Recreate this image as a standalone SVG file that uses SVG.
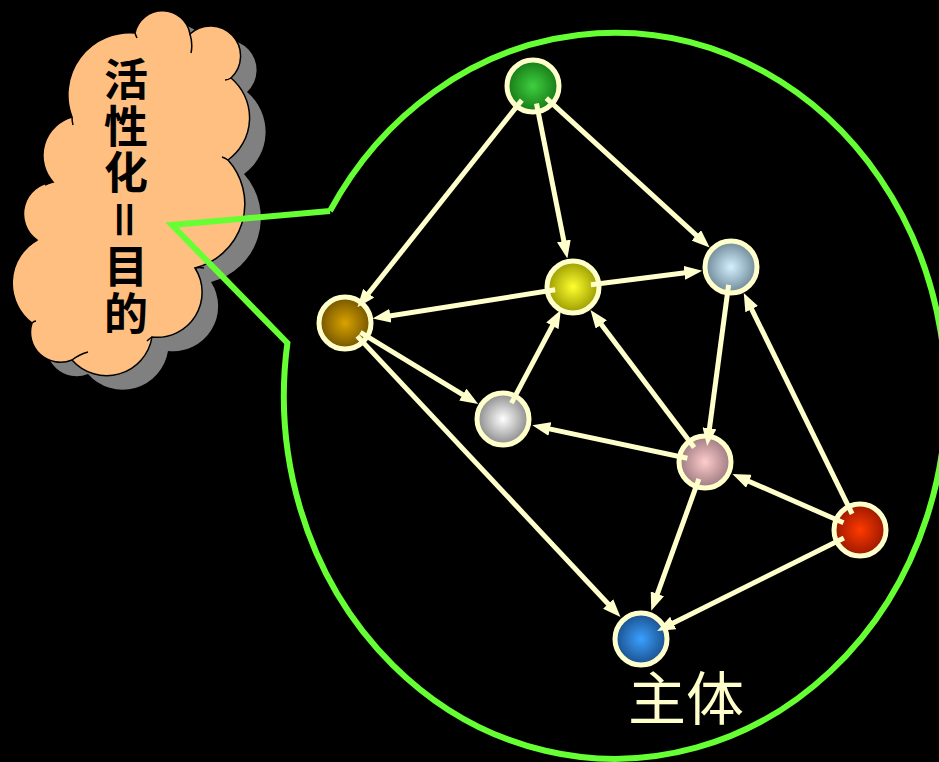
<svg xmlns="http://www.w3.org/2000/svg" width="939" height="762" viewBox="0 0 939 762">
<style>
.ring{stroke:#ffffcc;stroke-width:5}
.edge{stroke:#ffffcc;stroke-width:5;fill:none;marker-end:url(#ah)}
.cj{font-family:"Noto Sans CJK SC","Noto Sans CJK JP",sans-serif;font-weight:700;font-size:44px;fill:#000}
.curl{fill:none;stroke:#000;stroke-width:1.5}
</style>
<defs>
<marker id="ah" markerUnits="userSpaceOnUse" markerWidth="18" markerHeight="14" refX="9" refY="7" orient="auto"><path d="M0,0 L18,7 L0,14 Z" fill="#ffffcc"/></marker>
<radialGradient id="gG"><stop offset="0" stop-color="#3fcf3f"/><stop offset="1" stop-color="#167a16"/></radialGradient>
<radialGradient id="gY"><stop offset="0" stop-color="#ffff30"/><stop offset="1" stop-color="#9a9a00"/></radialGradient>
<radialGradient id="gL"><stop offset="0" stop-color="#d4f0ff"/><stop offset="1" stop-color="#6e8896"/></radialGradient>
<radialGradient id="gB"><stop offset="0" stop-color="#d9a300"/><stop offset="1" stop-color="#735400"/></radialGradient>
<radialGradient id="gS"><stop offset="0" stop-color="#ffffff"/><stop offset="1" stop-color="#8a8a8a"/></radialGradient>
<radialGradient id="gP"><stop offset="0" stop-color="#ffcccc"/><stop offset="1" stop-color="#9c7a80"/></radialGradient>
<radialGradient id="gR"><stop offset="0" stop-color="#ff3a00"/><stop offset="1" stop-color="#9a1800"/></radialGradient>
<radialGradient id="gU"><stop offset="0" stop-color="#3aa0ff"/><stop offset="1" stop-color="#1a4f8c"/></radialGradient>
<path id="cloud" d="M135,33 A28,28 0 0 1 190,34 A30,30 0 0 1 231,78 A52,52 0 0 1 228,160 A66,66 0 0 1 195,268 A45,45 0 0 1 152,337 A46,46 0 0 1 72,360 A30,30 0 0 1 32,323 A50,50 0 0 1 37,240 A32,32 0 0 1 53,182 A40,40 0 0 1 72,117 A62,62 0 0 1 135,33 Z"/>
</defs>
<rect x="0" y="0" width="939" height="762" fill="#000"/>

<g id="cloud-callout">
<use href="#cloud" transform="translate(16,14)" fill="#808080"/>
<use href="#cloud" fill="#ffbf80" stroke="#000" stroke-width="1.5"/>
<path class="curl" d="M190,34 Q193,44 191,53 M231,78 Q228,80 225,80 M228,160 Q225,158 222,157 M195,268 Q199,267 204,268 M152,337 Q149,339 147,341 M72,360 Q80,354 88,352 M32,323 Q34,321 36,321 M37,240 Q33,242 30,245 M53,182 Q49,183 45,185 M72,117 Q72,121 73,125 M135,33 Q136,36 137,38"/>
<text class="cj" x="126" y="57" writing-mode="vertical-rl" letter-spacing="2.8">活性化＝目的</text>
</g>

<g id="bubble">
<path d="M330,211 L172,225 L287.4,343 A331,363 0 1 0 330,211" fill="none" stroke="#66ff33" stroke-width="6" stroke-linejoin="miter"/>
</g>

<g id="node-green"><circle class="ring" cx="533" cy="86" r="26" fill="url(#gG)"/></g>
<g id="node-yellow"><circle class="ring" cx="573" cy="287" r="26" fill="url(#gY)"/></g>
<g id="node-lightblue"><circle class="ring" cx="731" cy="267" r="26" fill="url(#gL)"/></g>
<g id="node-brown"><circle class="ring" cx="345" cy="323" r="26" fill="url(#gB)"/></g>
<g id="node-silver"><circle class="ring" cx="503" cy="419" r="26" fill="url(#gS)"/></g>
<g id="node-pink"><circle class="ring" cx="705" cy="462" r="26" fill="url(#gP)"/></g>
<g id="node-red"><circle class="ring" cx="860" cy="530" r="26" fill="url(#gR)"/></g>
<g id="node-blue"><circle class="ring" cx="641" cy="639" r="26" fill="url(#gU)"/></g>

<g id="connectors">
<line class="edge" x1="521.8" y1="100.1" x2="363.0" y2="300.3"/>
<line class="edge" x1="536.5" y1="103.6" x2="565.6" y2="249.7"/>
<line class="edge" x1="546.3" y1="98.1" x2="703.0" y2="241.4"/>
<line class="edge" x1="590.9" y1="284.7" x2="693.3" y2="271.8"/>
<line class="edge" x1="555.2" y1="289.8" x2="381.5" y2="317.2"/>
<line class="edge" x1="360.4" y1="332.3" x2="470.5" y2="399.3"/>
<line class="edge" x1="511.4" y1="403.1" x2="556.6" y2="317.9"/>
<line class="edge" x1="357.3" y1="336.1" x2="614.3" y2="610.5"/>
<line class="edge" x1="728.6" y1="284.8" x2="708.3" y2="437.2"/>
<line class="edge" x1="694.2" y1="447.6" x2="595.9" y2="317.3"/>
<line class="edge" x1="687.4" y1="458.3" x2="541.1" y2="427.1"/>
<line class="edge" x1="698.9" y1="478.9" x2="654.3" y2="602.3"/>
<line class="edge" x1="843.5" y1="522.8" x2="740.7" y2="477.7"/>
<line class="edge" x1="852.1" y1="513.8" x2="747.7" y2="301.1"/>
<line class="edge" x1="843.9" y1="538.0" x2="665.2" y2="627.0"/>
</g>

<g id="label-subject">
<text x="628" y="720" font-family="'Noto Sans CJK SC','Noto Sans CJK JP',sans-serif" font-size="58" fill="#ffffcc">主体</text>
</g>
</svg>
